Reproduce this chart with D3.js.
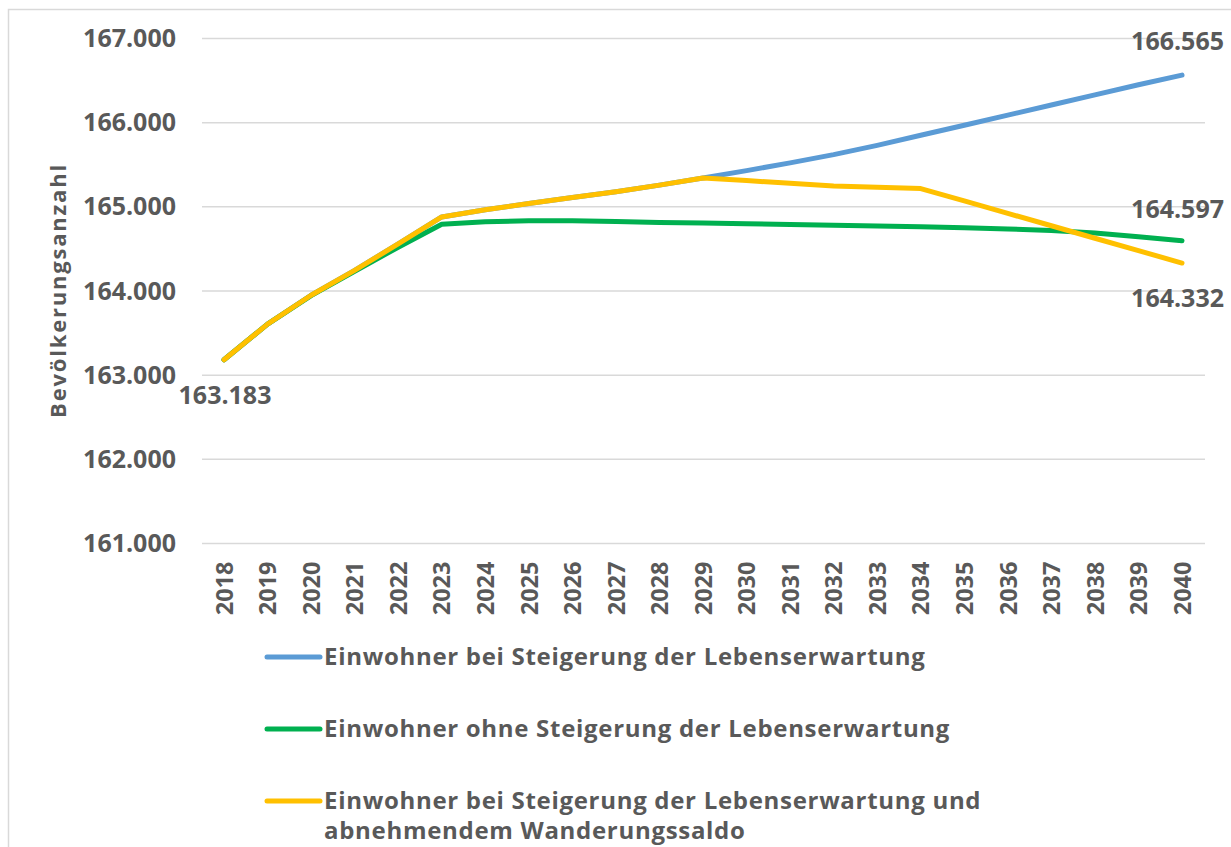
<!DOCTYPE html>
<html>
<head>
<meta charset="utf-8">
<script src="https://cdn.jsdelivr.net/npm/d3@7"></script>
<style>
  html, body { margin: 0; padding: 0; background: #fff; }
  svg { display: block; font-family: "Open Sans", "Noto Sans", sans-serif; font-weight: 700; }
</style>
</head>
<body>
<svg id="chart" width="1231" height="847"></svg>
<script>
// Projection years
const years = [2018, 2019, 2020, 2021, 2022, 2023, 2024, 2025, 2026, 2027, 2028,
               2029, 2030, 2031, 2032, 2033, 2034, 2035, 2036, 2037, 2038, 2039, 2040];

// Population with rising life expectancy
const mitSteigerung = [163183, 163606, 163950, 164245, 164560, 164880, 164965, 165040, 165110, 165180, 165258,
                       165343, 165430, 165522, 165620, 165730, 165850, 165969, 166090, 166210, 166330, 166450, 166565];

// Population without rising life expectancy
const ohneSteigerung = [163183, 163606, 163945, 164235, 164520, 164793, 164822, 164835, 164835, 164825, 164815,
                        164807, 164800, 164790, 164781, 164771, 164762, 164752, 164738, 164720, 164688, 164645, 164597];

// Population with rising life expectancy and declining net migration
const mitSteigerungWanderung = [163183, 163606, 163950, 164245, 164560, 164880, 164965, 165040, 165110, 165180, 165258,
                                165343, 165312, 165280, 165248, 165232, 165217, 165070, 164922, 164775, 164627, 164480, 164332];

const yTicks = [161000, 162000, 163000, 164000, 165000, 166000, 167000];

const seriesNames = [
  "Einwohner bei Steigerung der Lebenserwartung",
  "Einwohner ohne Steigerung der Lebenserwartung",
  ["Einwohner bei Steigerung der Lebenserwartung und", "abnehmendem Wanderungssaldo"]
];
const seriesColors = ["#5b9bd5", "#00b050", "#ffc000"];

const svg = d3.select("#chart");
const textColor = "#595959";
const fmt = v => d3.format(",")(v).replace(/,/g, ".");

// outer frame
svg.append("rect")
  .attr("x", 8.5).attr("y", 9.5).attr("width", 1300).attr("height", 900)
  .attr("fill", "none").attr("stroke", "#d9d9d9").attr("stroke-width", 1.5);

const plotLeft = 202, plotRight = 1205;
const x = d3.scalePoint().domain(years).range([224, 1182]);
const y = d3.scaleLinear().domain([161000, 167000]).range([543.5, 38.5]);

// gridlines
svg.append("g").selectAll("line").data(yTicks).join("line")
  .attr("x1", plotLeft).attr("x2", plotRight)
  .attr("y1", d => y(d)).attr("y2", d => y(d))
  .attr("stroke", "#d9d9d9").attr("stroke-width", 1.5);

// y axis labels
const yAxis = svg.append("g")
  .attr("transform", `translate(${plotLeft - 26},0)`)
  .call(d3.axisLeft(y).tickValues(yTicks).tickFormat(fmt).tickSize(0).tickPadding(0));
yAxis.select(".domain").remove();
yAxis.selectAll("text")
  .attr("fill", textColor).attr("font-size", 25).attr("font-weight", 700)
  .attr("font-family", "Open Sans, sans-serif");

// x axis labels (rotated)
const xAxis = svg.append("g")
  .attr("transform", `translate(0,${y(161000)})`)
  .call(d3.axisBottom(x).tickSize(0).tickPadding(0));
xAxis.select(".domain").remove();
xAxis.selectAll("text")
  .attr("fill", textColor).attr("font-size", 23.5).attr("font-weight", 700)
  .attr("font-family", "Open Sans, sans-serif")
  .attr("transform", "rotate(-90)")
  .attr("text-anchor", "end")
  .attr("x", -18).attr("y", 0).attr("dy", "0.35em");

// y axis title
svg.append("text")
  .attr("transform", `translate(66,${(163 + 418) / 2}) rotate(-90)`)
  .attr("text-anchor", "middle")
  .attr("fill", textColor).attr("font-size", 22).attr("letter-spacing", 1.8)
  .text("Bevölkerungsanzahl");

// lines
const allSeries = [mitSteigerung, ohneSteigerung, mitSteigerungWanderung];
const line = d3.line().x((d, i) => x(years[i])).y(d => y(d));
svg.append("g").selectAll("path").data(allSeries).join("path")
  .attr("d", line)
  .attr("fill", "none")
  .attr("stroke", (d, i) => seriesColors[i])
  .attr("stroke-width", 5)
  .attr("stroke-linecap", "round")
  .attr("stroke-linejoin", "round");

// value labels
const labelStyle = s => s.attr("fill", textColor).attr("font-size", 25);
const first = mitSteigerung[0];
svg.append("text").call(labelStyle)
  .attr("x", x(2018) + 1).attr("y", y(first) + 44).attr("text-anchor", "middle")
  .text(fmt(first));
const last = years.length - 1;
svg.append("text").call(labelStyle)
  .attr("x", 1224).attr("y", y(mitSteigerung[last]) - 25).attr("text-anchor", "end")
  .text(fmt(mitSteigerung[last]));
svg.append("text").call(labelStyle)
  .attr("x", 1224).attr("y", y(ohneSteigerung[last]) - 23).attr("text-anchor", "end")
  .text(fmt(ohneSteigerung[last]));
svg.append("text").call(labelStyle)
  .attr("x", 1224).attr("y", y(mitSteigerungWanderung[last]) + 44).attr("text-anchor", "end")
  .text(fmt(mitSteigerungWanderung[last]));

// legend
const legendY = [657, 729, 801];
const legend = svg.append("g");
seriesNames.forEach((name, i) => {
  legend.append("line")
    .attr("x1", 267).attr("x2", 320)
    .attr("y1", legendY[i]).attr("y2", legendY[i])
    .attr("stroke", seriesColors[i]).attr("stroke-width", 5)
    .attr("stroke-linecap", "round");
  const t = legend.append("text")
    .attr("x", 324).attr("y", legendY[i])
    .attr("fill", textColor).attr("font-size", 24).attr("letter-spacing", 0.7);
  const lines = Array.isArray(name) ? name : [name];
  lines.forEach((ln, j) => {
    t.append("tspan").attr("x", 324).attr("dy", j === 0 ? "0.35em" : 30).text(ln);
  });
});
</script>
</body>
</html>
